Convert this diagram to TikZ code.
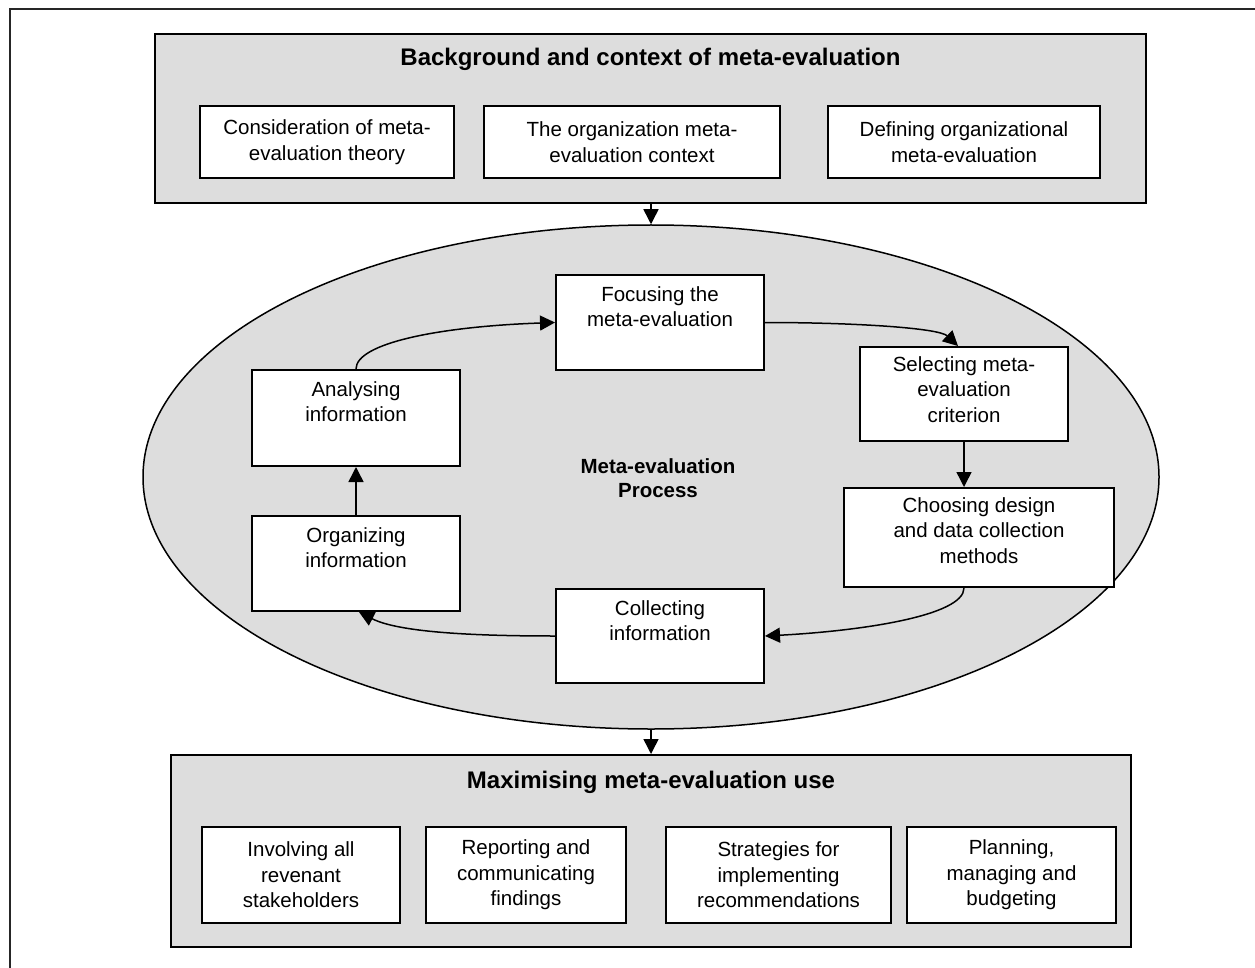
\documentclass[tikz,border=0pt]{standalone}
\usepackage{fontspec}
\setmainfont{Liberation Sans}
\usetikzlibrary{arrows.meta,shapes.geometric}
\definecolor{panel}{RGB}{221,221,221}
\begin{document}
\begin{tikzpicture}[x=1pt,y=1pt,
  panelbox/.style={draw, line width=2pt, fill=panel, rectangle, inner sep=0pt, anchor=north west},
  whitebox/.style={draw, line width=2pt, fill=white, rectangle, inner sep=0pt, anchor=north west},
  boxtext/.style={align=center, font=\fontsize{20.5}{25.5}\selectfont, inner sep=0pt},
  titletext/.style={font=\fontsize{24}{28}\selectfont\bfseries, inner sep=0pt},
  conn/.style={line width=1.5pt, -{Triangle[length=15pt,width=15pt]}},
]
\useasboundingbox (0,0) rectangle (1255,-968);
\fill[white] (0,0) rectangle (1255,-968);
% outer frame (left and top)
\draw[line width=2pt, black!85] (10,-968) -- (10,-9) -- (1255,-9);

% ---------- top panel ----------
\node[panelbox, minimum width=991pt, minimum height=169pt] (bg) at (154,-33) {};
\node[titletext] (bgt) at ([yshift=-26pt]bg.north) {Background and context of meta-evaluation};
\node[whitebox, minimum width=254pt, minimum height=72pt] (t1) at (199,-105) {};
\node[whitebox, minimum width=296pt, minimum height=72pt] (t2) at (483,-105) {};
\node[whitebox, minimum width=272pt, minimum height=72pt] (t3) at (827,-105) {};
\node[boxtext] at (t1) {Consideration of meta-\\evaluation theory};
\node[boxtext] at (t2) {The organization meta-\\evaluation context};
\node[boxtext] at (t3) {Defining organizational\\meta-evaluation};

% ---------- process ellipse ----------
\node[ellipse, draw, fill=panel, line width=1.5pt, inner sep=0pt,
      minimum width=1016pt, minimum height=504pt] (proc) at (651,-477) {};
\node[align=center, inner sep=0pt, font=\fontsize{20.5}{24.5}\selectfont\bfseries] (pt) at (658,-478) {Meta-evaluation\\Process};

\node[whitebox, minimum width=208pt, minimum height=95pt] (focus) at (555,-274) {};
\node[whitebox, minimum width=208pt, minimum height=94pt] (select) at (859,-346) {};
\node[whitebox, minimum width=270pt, minimum height=99pt] (choose) at (843,-487) {};
\node[whitebox, minimum width=208pt, minimum height=94pt] (collect) at (555,-588) {};
\node[whitebox, minimum width=208pt, minimum height=95pt] (organ) at (251,-515) {};
\node[whitebox, minimum width=208pt, minimum height=96pt] (analys) at (251,-369) {};

\node[boxtext, anchor=north] at ([yshift=-12pt]focus.north) {Focusing the\\meta-evaluation};
\node[boxtext, anchor=north] at ([yshift=-10pt]select.north) {Selecting meta-\\evaluation\\criterion};
\node[boxtext, anchor=north] at ([yshift=-10pt]choose.north) {Choosing design\\and data collection\\methods};
\node[boxtext, anchor=north] at ([yshift=-12pt]collect.north) {Collecting\\information};
\node[boxtext, anchor=north] at ([yshift=-12pt]organ.north) {Organizing\\information};
\node[boxtext, anchor=north] at ([yshift=-12pt]analys.north) {Analysing\\information};

% cycle connectors
\draw[conn] (analys.north) .. controls ([yshift=26pt]analys.north) and ([xshift=-115pt,yshift=-4pt]focus.west) .. (focus.west);
\draw[conn] (focus.east) .. controls ([xshift=90pt]focus.east) and ([xshift=-25pt,yshift=18pt]select.north) .. ([xshift=-6pt]select.north);
\draw[conn] (select.south) -- (select.south |- choose.north);
\draw[conn] (select.south |- choose.south) .. controls ([yshift=-28pt]select.south |- choose.south) and ([xshift=95pt,yshift=5pt]collect.east) .. (collect.east);
\draw[conn] (collect.west) .. controls ([xshift=-85pt]collect.west) and ([xshift=42pt,yshift=-20pt]organ.south) .. ([xshift=3pt]organ.south);
\draw[conn] (organ.north) -- (analys.south);

% ---------- bottom panel ----------
\node[panelbox, minimum width=960pt, minimum height=192pt] (use) at (170,-754) {};
\node[titletext] (uset) at ([yshift=-28pt]use.north) {Maximising meta-evaluation use};
\node[whitebox, minimum width=198pt, minimum height=96pt] (b1) at (201,-826) {};
\node[whitebox, minimum width=200pt, minimum height=96pt] (b2) at (425,-826) {};
\node[whitebox, minimum width=225pt, minimum height=96pt] (b3) at (665,-826) {};
\node[whitebox, minimum width=209pt, minimum height=96pt] (b4) at (906,-826) {};
\node[boxtext] at (b1) {Involving all\\revenant\\stakeholders};
\node[boxtext] at (b2) {Reporting and\\communicating\\findings};
\node[boxtext] at (b3) {Strategies for\\implementing\\recommendations};
\node[boxtext] at (b4) {Planning,\\managing and\\budgeting};

% panel to ellipse connectors
\draw[conn] (proc.north |- bg.south) -- (proc.north);
\draw[conn] (proc.south) -- (proc.south |- use.north);
\end{tikzpicture}
\end{document}
